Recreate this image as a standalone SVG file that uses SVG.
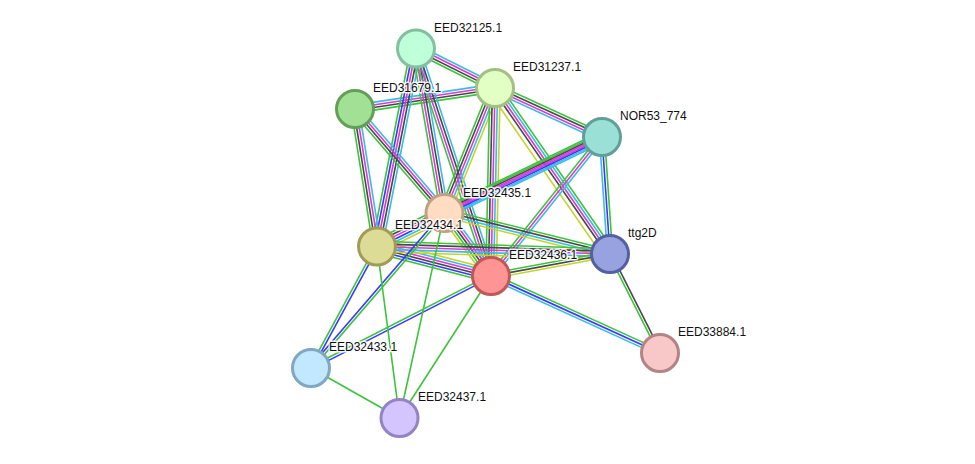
<svg xmlns="http://www.w3.org/2000/svg" width="975" height="464" viewBox="0 0 975 464">
<style>
#edges line{stroke-width:1.6;fill:none}
.gr{stroke:#3cc43c}.bk{stroke:#484848}.mg{stroke:#d93ad9}.cy{stroke:#3cbbe6}.bl{stroke:#3838ff}.ye{stroke:#c4d42c}
.n{stroke-width:3}
.t{font-family:"Liberation Sans",Arial,sans-serif;font-size:12px;fill:#111;stroke:#fff;stroke-width:3;stroke-opacity:0.85;paint-order:stroke;stroke-linejoin:round}
</style>
<rect width="975" height="464" fill="#fff"/>
<g id="edges">
<g transform="translate(416,48.5) rotate(26.57)"><line class="cy" x2="88.3" y1="-3.9" y2="-3.9"/><line class="mg" x2="88.3" y1="-1.3" y2="-1.3"/><line class="bk" x2="88.3" y1="1.3" y2="1.3"/><line class="gr" x2="88.3" y1="3.9" y2="3.9"/></g>
<g transform="translate(355,109) rotate(-8.53)"><line class="cy" x2="141.6" y1="-3.9" y2="-3.9"/><line class="mg" x2="141.6" y1="-1.3" y2="-1.3"/><line class="bk" x2="141.6" y1="1.3" y2="1.3"/><line class="gr" x2="141.6" y1="3.9" y2="3.9"/></g>
<g transform="translate(416,48.5) rotate(101.14)"><line class="gr" x2="201.8" y1="5.2" y2="5.2"/><line class="bl" x2="201.8" y1="2.6" y2="2.6"/><line class="mg" x2="201.8" y1="0" y2="0"/><line class="bk" x2="201.8" y1="-2.6" y2="-2.6"/><line class="cy" x2="201.8" y1="-5.2" y2="-5.2"/></g>
<g transform="translate(416,48.5) rotate(80.17)"><line class="gr" x2="167" y1="3.9" y2="3.9"/><line class="mg" x2="167" y1="1.3" y2="1.3"/><line class="bk" x2="167" y1="-1.3" y2="-1.3"/><line class="cy" x2="167" y1="-3.9" y2="-3.9"/></g>
<g transform="translate(416,48.5) rotate(71.75)"><line class="gr" x2="239.5" y1="3.9" y2="3.9"/><line class="mg" x2="239.5" y1="1.3" y2="1.3"/><line class="bk" x2="239.5" y1="-1.3" y2="-1.3"/><line class="cy" x2="239.5" y1="-3.9" y2="-3.9"/></g>
<g transform="translate(355,109) rotate(80.91)"><line class="gr" x2="139.3" y1="3.9" y2="3.9"/><line class="bk" x2="139.3" y1="1.3" y2="1.3"/><line class="mg" x2="139.3" y1="-1.3" y2="-1.3"/><line class="cy" x2="139.3" y1="-3.9" y2="-3.9"/></g>
<g transform="translate(355,109) rotate(49.29)"><line class="cy" x2="137.2" y1="-3.9" y2="-3.9"/><line class="mg" x2="137.2" y1="-1.3" y2="-1.3"/><line class="bk" x2="137.2" y1="1.3" y2="1.3"/><line class="gr" x2="137.2" y1="3.9" y2="3.9"/></g>
<g transform="translate(495,88) rotate(24.6)"><line class="gr" x2="117.7" y1="-3.9" y2="-3.9"/><line class="bk" x2="117.7" y1="-1.3" y2="-1.3"/><line class="mg" x2="117.7" y1="1.3" y2="1.3"/><line class="cy" x2="117.7" y1="3.9" y2="3.9"/></g>
<g transform="translate(495,88) rotate(112)"><line class="gr" x2="134.8" y1="5.2" y2="5.2"/><line class="bk" x2="134.8" y1="2.6" y2="2.6"/><line class="mg" x2="134.8" y1="0" y2="0"/><line class="cy" x2="134.8" y1="-2.6" y2="-2.6"/><line class="ye" x2="134.8" y1="-5.2" y2="-5.2"/></g>
<g transform="translate(495,88) rotate(91.22)"><line class="gr" x2="188" y1="5.2" y2="5.2"/><line class="bk" x2="188" y1="2.6" y2="2.6"/><line class="mg" x2="188" y1="0" y2="0"/><line class="cy" x2="188" y1="-2.6" y2="-2.6"/><line class="ye" x2="188" y1="-5.2" y2="-5.2"/></g>
<g transform="translate(495,88) rotate(55.29)"><line class="ye" x2="201.9" y1="7" y2="7"/><line class="bk" x2="201.9" y1="2.6" y2="2.6"/><line class="mg" x2="201.9" y1="0" y2="0"/><line class="cy" x2="201.9" y1="-2.6" y2="-2.6"/><line class="gr" x2="201.9" y1="-5.2" y2="-5.2"/></g>
<g transform="translate(602,137) rotate(154.24)"><line class="gr" x2="174.9" y1="5.25" y2="5.25"/><line class="gr" x2="174.9" y1="3.75" y2="3.75"/><line class="bk" x2="174.9" y1="2.25" y2="2.25"/><line class="mg" x2="174.9" y1="0.75" y2="0.75"/><line class="mg" x2="174.9" y1="-0.75" y2="-0.75"/><line class="bl" x2="174.9" y1="-2.25" y2="-2.25"/><line class="cy" x2="174.9" y1="-3.75" y2="-3.75"/><line class="cy" x2="174.9" y1="-5.25" y2="-5.25"/></g>
<g transform="translate(602,137) rotate(128.6)"><line class="gr" x2="177.9" y1="2.6" y2="2.6"/><line class="mg" x2="177.9" y1="0" y2="0"/><line class="cy" x2="177.9" y1="-2.6" y2="-2.6"/></g>
<g transform="translate(602,137) rotate(86.09)"><line class="cy" x2="117.3" y1="2.6" y2="2.6"/><line class="bl" x2="117.3" y1="0" y2="0"/><line class="gr" x2="117.3" y1="-2.6" y2="-2.6"/></g>
<g transform="translate(444.5,213) rotate(153.61)"><line class="gr" x2="75.4" y1="6.5" y2="6.5"/><line class="bk" x2="75.4" y1="3.9" y2="3.9"/><line class="mg" x2="75.4" y1="1.3" y2="1.3"/><line class="bl" x2="75.4" y1="-1.3" y2="-1.3"/><line class="cy" x2="75.4" y1="-3.9" y2="-3.9"/><line class="ye" x2="75.4" y1="-6.5" y2="-6.5"/></g>
<g transform="translate(444.5,213) rotate(53.57)"><line class="cy" x2="78.3" y1="-5.2" y2="-5.2"/><line class="mg" x2="78.3" y1="-2.6" y2="-2.6"/><line class="bk" x2="78.3" y1="0" y2="0"/><line class="gr" x2="78.3" y1="2.6" y2="2.6"/><line class="ye" x2="78.3" y1="5.2" y2="5.2"/></g>
<g transform="translate(444.5,213) rotate(13.91)"><line class="gr" x2="170.5" y1="-3.9" y2="-3.9"/><line class="bk" x2="170.5" y1="-1.3" y2="-1.3"/><line class="cy" x2="170.5" y1="1.3" y2="1.3"/><line class="ye" x2="170.5" y1="3.9" y2="3.9"/></g>
<g transform="translate(377,246.5) rotate(14.51)"><line class="ye" x2="117.8" y1="-6.5" y2="-6.5"/><line class="cy" x2="117.8" y1="-3.9" y2="-3.9"/><line class="mg" x2="117.8" y1="-1.3" y2="-1.3"/><line class="bk" x2="117.8" y1="1.3" y2="1.3"/><line class="bl" x2="117.8" y1="3.9" y2="3.9"/><line class="gr" x2="117.8" y1="6.5" y2="6.5"/></g>
<g transform="translate(377,246.5) rotate(1.84)"><line class="gr" x2="233.1" y1="-5.2" y2="-5.2"/><line class="bk" x2="233.1" y1="-2.6" y2="-2.6"/><line class="mg" x2="233.1" y1="0" y2="0"/><line class="cy" x2="233.1" y1="2.6" y2="2.6"/><line class="ye" x2="233.1" y1="5.2" y2="5.2"/></g>
<g transform="translate(491,276) rotate(-10.47)"><line class="gr" x2="121" y1="-2.6" y2="-2.6"/><line class="bk" x2="121" y1="0" y2="0"/><line class="ye" x2="121" y1="2.6" y2="2.6"/></g>
<g transform="translate(491,276) rotate(24.5)"><line class="gr" x2="185.7" y1="-2.6" y2="-2.6"/><line class="bl" x2="185.7" y1="0" y2="0"/><line class="cy" x2="185.7" y1="2.6" y2="2.6"/></g>
<g transform="translate(610,254) rotate(63.2)"><line class="gr" x2="110.9" y1="1.3" y2="1.3"/><line class="bk" x2="110.9" y1="-1.3" y2="-1.3"/></g>
<g transform="translate(377,246.5) rotate(118.52)"><line class="gr" x2="138.3" y1="1.3" y2="1.3"/><line class="bl" x2="138.3" y1="-1.3" y2="-1.3"/></g>
<g transform="translate(444.5,213) rotate(130.74)"><line class="bl" x2="204.6" y1="1.3" y2="1.3"/><line class="gr" x2="204.6" y1="-1.3" y2="-1.3"/></g>
<g transform="translate(491,276) rotate(152.93)"><line class="gr" x2="202.1" y1="1.3" y2="1.3"/><line class="bl" x2="202.1" y1="-1.3" y2="-1.3"/></g>
<line class="gr" x1="377" y1="246.5" x2="399.5" y2="418"/>
<line class="gr" x1="444.5" y1="213" x2="399.5" y2="418"/>
<line class="gr" x1="491" y1="276" x2="399.5" y2="418"/>
<line class="gr" x1="311" y1="368" x2="399.5" y2="418"/>
</g>
<g id="EED32125.1"><circle class="n" cx="416" cy="48.5" r="18.5" fill="#bfffd9" stroke="#82c0a0"/><text class="t" x="434" y="32">EED32125.1</text></g>
<g id="EED31237.1"><circle class="n" cx="495" cy="88" r="18.5" fill="#e2ffc4" stroke="#a2c084"/><text class="t" x="513" y="71">EED31237.1</text></g>
<g id="EED31679.1"><circle class="n" cx="355" cy="109" r="18.5" fill="#a2e096" stroke="#62a058"/><text class="t" x="373" y="92">EED31679.1</text></g>
<g id="NOR53_774"><circle class="n" cx="602" cy="137" r="18.5" fill="#9ae0d6" stroke="#60a098"/><text class="t" x="620" y="120">NOR53_774</text></g>
<g id="EED32435.1"><circle class="n" cx="444.5" cy="213" r="18.5" fill="#ffdcc2" stroke="#c0a282"/><text class="t" x="463" y="197">EED32435.1</text></g>
<g id="EED32434.1"><circle class="n" cx="377" cy="246.5" r="18.5" fill="#dcdc96" stroke="#a09c58"/><text class="t" x="395" y="229">EED32434.1</text></g>
<g id="EED32436.1"><circle class="n" cx="491" cy="276" r="18.5" fill="#ff9494" stroke="#c05858"/><text class="t" x="509" y="259">EED32436.1</text></g>
<g id="ttg2D"><circle class="n" cx="610" cy="254" r="18.5" fill="#98a2e0" stroke="#5560a0"/><text class="t" x="628" y="237">ttg2D</text></g>
<g id="EED33884.1"><circle class="n" cx="660" cy="353" r="18.5" fill="#f8c8c8" stroke="#b48484"/><text class="t" x="678" y="336">EED33884.1</text></g>
<g id="EED32433.1"><circle class="n" cx="311" cy="368" r="18.5" fill="#c2e8ff" stroke="#80a8c2"/><text class="t" x="329" y="351">EED32433.1</text></g>
<g id="EED32437.1"><circle class="n" cx="399.5" cy="418" r="18.5" fill="#d4c4ff" stroke="#9484c4"/><text class="t" x="418" y="401">EED32437.1</text></g>
</svg>
